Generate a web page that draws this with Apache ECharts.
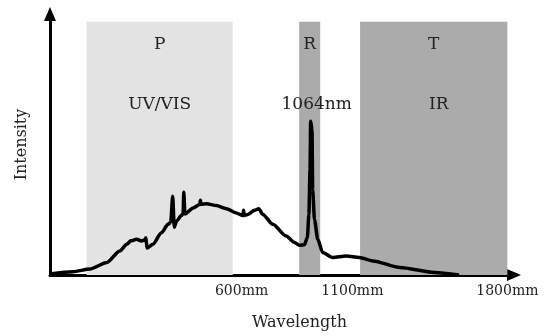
<!DOCTYPE html>
<html>
<head>
<meta charset="utf-8">
<script src="https://cdn.jsdelivr.net/npm/echarts@6/dist/echarts.min.js"></script>
<style>
  html, body {margin: 0; padding: 0; background: #fff;}
  #main {width: 544px; height: 336px;}
</style>
</head>
<body>
<div id="main"></div>
<script>
// spectrum (x in axis units, y in % of axis height)
const wavelength = [-265, -161, -85, -8, 50, 82, 100, 126, 148, 165, 168, 173, 200, 238, 268, 280, 289, 296, 306, 328, 336, 339, 344, 381, 411, 414, 417, 441, 486, 531, 576, 606, 609, 612, 628, 659, 678, 696, 741, 801, 839, 861, 884, 897, 904, 909, 912, 918, 921, 929, 944, 966, 1011, 1072, 1132, 1192, 1315, 1472, 1582];
const intensity = [0.4, 1.25, 2.3, 4.8, 9.2, 11.8, 13.1, 13.7, 13.0, 13.5, 14.3, 10.3, 11.8, 16.2, 19.4, 20.2, 30.2, 18.3, 20.6, 22.8, 23.6, 31.7, 23.4, 25.7, 27.0, 28.6, 27.1, 27.3, 26.6, 25.4, 23.8, 22.8, 24.8, 22.8, 23.2, 24.8, 25.4, 23.2, 19.4, 14.9, 12.5, 11.4, 11.6, 14.4, 23.2, 40.3, 58.9, 55.5, 32.7, 21.3, 13.7, 8.6, 6.7, 7.3, 6.7, 5.4, 2.9, 1.0, 0];

const regionNames = ['P', 'R', 'T'];
const regionBands = ['UV/VIS', '1064nm', 'IR'];
const regionStart = [-100, 860, 1135];
const regionEnd = [560, 955, 1800];
const regionTop = 97;

const tickValues = [600, 1100, 1800];

const fills = ['#e3e3e3', '#ababab', '#ababab'];
const bandShift = [0, 14, 10];

const chart = echarts.init(document.getElementById('main'));
const font = 'DejaVu Serif';

chart.setOption({
  animation: false,
  grid: {left: 50, right: 30, top: 14, bottom: 60},
  xAxis: {
    type: 'value',
    min: -265,
    max: 1830,
    name: 'Wavelength',
    nameLocation: 'middle',
    nameGap: 40,
    nameTextStyle: {fontFamily: font, fontSize: 16, color: '#222', padding: [0, 0, 0, 35]},
    axisLine: {
      onZero: false,
      lineStyle: {color: '#000', width: 3},
      symbol: ['none', 'triangle'],
      symbolSize: [12, 14]
    },
    axisTick: {show: false},
    splitLine: {show: false},
    axisLabel: {
      customValues: tickValues,
      formatter: v => v + 'mm',
      fontFamily: font,
      fontSize: 14,
      color: '#222',
      margin: 9
    }
  },
  yAxis: {
    type: 'value',
    min: 0,
    max: 100,
    name: 'Intensity',
    nameLocation: 'middle',
    nameRotate: 90,
    nameGap: 20,
    nameTextStyle: {fontFamily: font, fontSize: 16, color: '#222'},
    axisLine: {
      show: true,
      onZero: false,
      lineStyle: {color: '#000', width: 3},
      symbol: ['none', 'triangle'],
      symbolSize: [12, 14]
    },
    axisTick: {show: false},
    axisLabel: {show: false},
    splitLine: {show: false}
  },
  series: [{
    type: 'line',
    data: wavelength.map((w, i) => [w, intensity[i]]),
    showSymbol: false,
    smooth: 0.25,
    smoothMonotone: 'x',
    lineStyle: {color: '#000', width: 3.5, join: 'round'},
    z: 3,
    markArea: {
      silent: true,
      data: regionNames.map((n, i) => [
        {
          xAxis: regionStart[i],
          yAxis: 0,
          itemStyle: {color: fills[i]},
          label: {
            show: true,
            position: 'insideTop',
            distance: 0,
            formatter: '{a|' + n + '}\n{b|' + regionBands[i] + '}',
            rich: {
              a: {fontFamily: font, fontSize: 17, color: '#222', lineHeight: 46},
              b: {fontFamily: font, fontSize: 17, color: '#222', lineHeight: 74, padding: [0, 0, 0, bandShift[i]]}
            }
          }
        },
        {xAxis: regionEnd[i], yAxis: regionTop}
      ])
    }
  }]
});
</script>
</body>
</html>
